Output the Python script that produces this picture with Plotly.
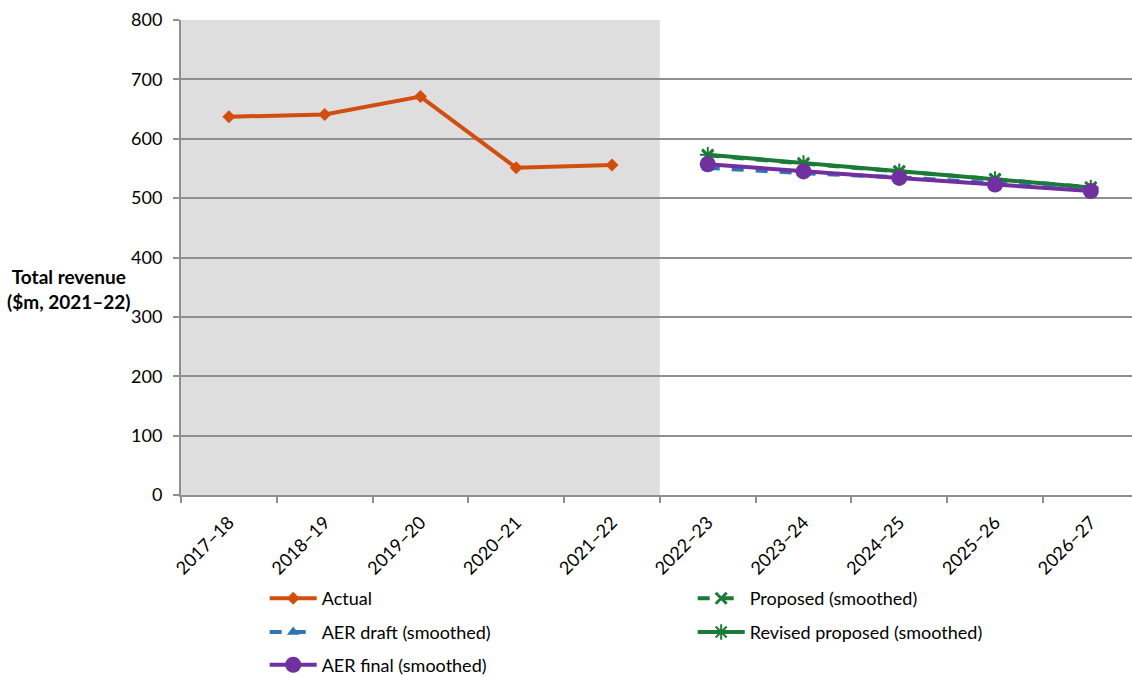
import plotly.graph_objects as go

# Financial years on the category axis
years = ["2017–18", "2018–19", "2019–20", "2020–21", "2021–22",
         "2022–23", "2023–24", "2024–25", "2025–26", "2026–27"]
actual_years = years[:5]
forecast_years = years[5:]

# Total revenue ($m, 2021–22)
actual = [637, 641, 671, 551, 556]
proposed = [572, 558, 545, 532, 518]
aer_draft = [551, 542, 535, 525, 513]
revised_proposed = [573, 559, 545, 532, 518]
aer_final = [557, 545, 534, 523, 512]

y_ticks = [0, 100, 200, 300, 400, 500, 600, 700, 800]

FONT = "Lato"
ORANGE = "#D24E0E"
GREEN = "#1B7A37"
BLUE = "#2E75B6"
PURPLE = "#7030A0"
GRID = "#8F8F8F"

fig = go.Figure()

fig.add_trace(go.Scatter(
    x=actual_years, y=actual, name="Actual", mode="lines+markers",
    line=dict(color=ORANGE, width=4),
    marker=dict(symbol="diamond", size=10, color=ORANGE),
    legend="legend"))
fig.add_trace(go.Scatter(
    x=forecast_years, y=proposed, name="Proposed (smoothed)", mode="lines+markers",
    line=dict(color=GREEN, width=4, dash="dash"),
    marker=dict(symbol="x-thin-open", size=11, color=GREEN, line=dict(width=3, color=GREEN)),
    legend="legend"))
fig.add_trace(go.Scatter(
    x=forecast_years, y=revised_proposed, name="Revised proposed (smoothed)", mode="lines+markers",
    line=dict(color=GREEN, width=4),
    marker=dict(symbol="asterisk-open", size=13, color=GREEN, line=dict(width=2, color=GREEN)),
    legend="legend2", legendrank=2))
fig.add_trace(go.Scatter(
    x=forecast_years, y=aer_draft, name="AER draft (smoothed)", mode="lines+markers",
    line=dict(color=BLUE, width=4, dash="dash"),
    marker=dict(symbol="triangle-up", size=11, color=BLUE),
    legend="legend2", legendrank=1))
fig.add_trace(go.Scatter(
    x=forecast_years, y=aer_final, name="AER final (smoothed)", mode="lines+markers",
    line=dict(color=PURPLE, width=4),
    marker=dict(symbol="circle", size=16, color=PURPLE),
    legend="legend3"))

# Shaded band behind the actual years
fig.add_shape(type="rect", xref="x", yref="y", x0=-0.5, x1=4.5, y0=0, y1=800,
              fillcolor="#DEDEDE", line=dict(width=0), layer="below")

fig.add_annotation(
    text="<b>Total revenue<br>($m, 2021–22)</b>", xref="paper", yref="paper",
    x=-0.05, y=0.434, xanchor="right", yanchor="middle", align="center",
    showarrow=False, font=dict(family=FONT, size=19, color="#000000"))

legend_common = dict(
    orientation="h", xanchor="left", yanchor="middle", x=0.088,
    entrywidth=366, entrywidthmode="pixels", itemwidth=47,
    bgcolor="rgba(0,0,0,0)",
    font=dict(family=FONT, size=18, color="#000000"), traceorder="normal")

fig.update_layout(
    width=1132, height=677,
    margin=dict(l=181, r=0, t=20, b=182, autoexpand=False),
    plot_bgcolor="white", paper_bgcolor="white",
    font=dict(family=FONT, size=18, color="#000000"),
    xaxis=dict(
        type="category", categoryorder="array", categoryarray=years,
        range=[-0.5, 9.43], tickson="boundaries", ticks="outside", ticklen=6,
        tickcolor=GRID, tickwidth=2, showgrid=False, showline=True,
        linecolor=GRID, linewidth=2, tickangle=-45, ticklabelstandoff=8,
        tickfont=dict(family=FONT, size=18, color="#000000")),
    yaxis=dict(
        range=[0, 800], tickvals=y_ticks, showgrid=True, gridcolor=GRID, gridwidth=2,
        zeroline=False, showline=True, linecolor=GRID, linewidth=2,
        ticks="outside", ticklen=6, tickcolor=GRID, tickwidth=2, ticklabelstandoff=7,
        tickfont=dict(family=FONT, size=18, color="#000000")),
    legend=dict(y=-0.218, **legend_common),
    legend2=dict(y=-0.289, **legend_common),
    legend3=dict(y=-0.358, **legend_common),
    showlegend=True,
)

fig.write_html("out.html")
